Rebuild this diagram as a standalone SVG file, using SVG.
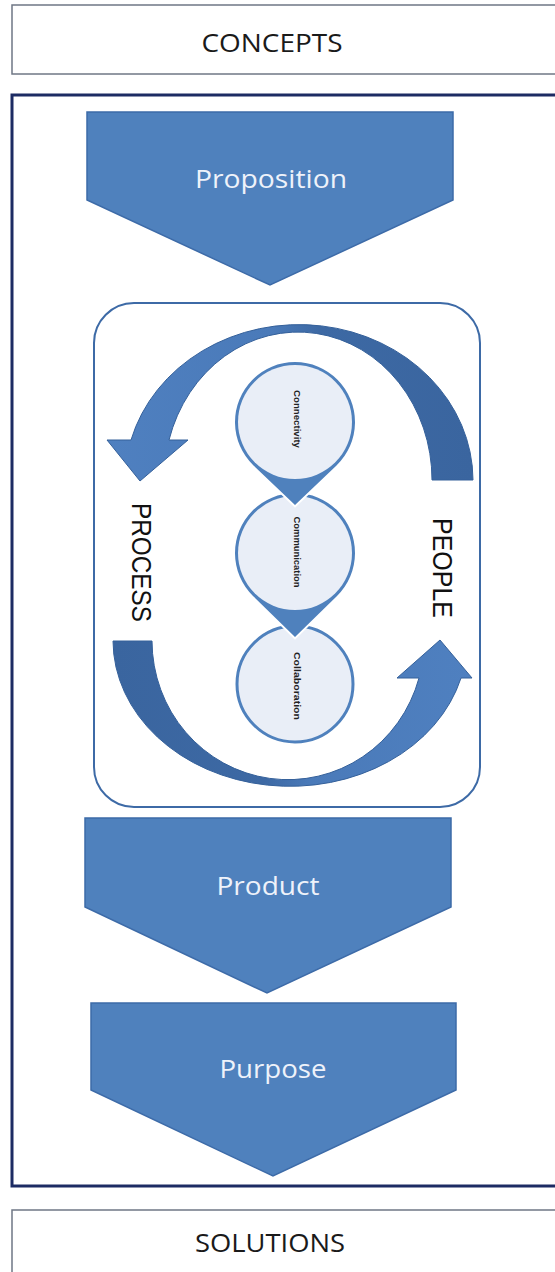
<svg xmlns="http://www.w3.org/2000/svg" width="555" height="1272" viewBox="0 0 555 1272">
  <style>
    .lbl { font-family: "Open Sans", "Noto Sans", sans-serif; font-size: 25px; fill: #1a1a1a; text-anchor: middle; }
    .chev { fill: #4f81bd; stroke: #3d6ba8; stroke-width: 1.5; }
    .chevtxt { font-family: "Open Sans", "Noto Sans", sans-serif; font-size: 25px; fill: #eef2fa; text-anchor: middle; }
    .side { font-family: "Liberation Sans", Arial, sans-serif; font-size: 27px; fill: #111; }
    .ctxt { font-family: "Liberation Sans", Arial, sans-serif; font-size: 9px; fill: #222; text-anchor: middle; font-weight: bold; }
    .drop { fill: #4f81bd; stroke: #ffffff; stroke-width: 4; paint-order: stroke; }
    .inner { fill: #e9eef7; }
    .arc { stroke: #34609a; stroke-width: 1; }
  </style>
  <defs>
    <linearGradient id="gTop" gradientUnits="userSpaceOnUse" x1="107" y1="0" x2="473" y2="0">
      <stop offset="0" stop-color="#4f80c0"/>
      <stop offset="0.45" stop-color="#4a7ab9"/>
      <stop offset="0.58" stop-color="#3d69a4"/>
      <stop offset="1" stop-color="#3a659f"/>
    </linearGradient>
    <linearGradient id="gBot" gradientUnits="userSpaceOnUse" x1="113" y1="0" x2="472" y2="0">
      <stop offset="0" stop-color="#3a659f"/>
      <stop offset="0.42" stop-color="#3d69a4"/>
      <stop offset="0.55" stop-color="#4a7ab9"/>
      <stop offset="1" stop-color="#4f80c0"/>
    </linearGradient>
  </defs>

  <rect width="555" height="1272" fill="#ffffff"/>

  <g id="concepts">
    <rect x="12" y="5" width="560" height="69" fill="#ffffff" stroke="#6f7785" stroke-width="1.5"/>
    <text class="lbl" x="272" y="52" textLength="141" lengthAdjust="spacingAndGlyphs">CONCEPTS</text>
  </g>

  <g id="frame">
    <rect x="12" y="95" width="560" height="1091" fill="none" stroke="#1c2b63" stroke-width="3"/>
  </g>

  <g id="proposition">
    <polygon class="chev" points="87,112 453,112 453,200 270,285 87,200"/>
    <text class="chevtxt" x="271" y="188" textLength="152" lengthAdjust="spacingAndGlyphs">Proposition</text>
  </g>

  <g id="cycle">
    <rect x="94" y="303" width="386" height="504" rx="40" ry="40" fill="#ffffff" stroke="#3d6aa6" stroke-width="2"/>
  </g>

  <g id="connectors">
    <path class="arc" fill="url(#gTop)" d="M 473,480 A 174 156 0 0 0 131,440 L 107,440 L 140,481 L 188,440 L 169,440 A 134 148 0 0 1 432,480 Z"/>
    <path class="arc" fill="url(#gBot)" d="M 113,641 A 177 146 0 0 0 461,678 L 472,678 L 440,640 L 397,678 L 419,678 A 136 139 0 0 1 152,641 Z"/>
  </g>

  <g id="process">
    <text class="side" transform="translate(132,503) rotate(90)" textLength="119" lengthAdjust="spacingAndGlyphs">PROCESS</text>
  </g>
  <g id="people">
    <text class="side" transform="translate(433,518) rotate(90)" textLength="100" lengthAdjust="spacingAndGlyphs">PEOPLE</text>
  </g>

  <g id="collaboration">
    <circle cx="295" cy="684" r="58" fill="#e9eef7" stroke="#4f81bd" stroke-width="3"/>
    <text class="ctxt" transform="translate(294,686) rotate(90)" textLength="68" lengthAdjust="spacingAndGlyphs">Collaboration</text>
  </g>
  <g id="communication">
    <path class="drop" d="M 253,595.9 A 60 60 0 1 1 337,595.9 L 295,637 Z"/>
    <circle class="inner" cx="295" cy="553" r="57"/>
    <text class="ctxt" transform="translate(294,552) rotate(90)" textLength="71" lengthAdjust="spacingAndGlyphs">Communication</text>
  </g>
  <g id="connectivity">
    <path class="drop" d="M 253.5,465.4 A 60 60 0 1 1 336.5,465.4 L 295,505 Z"/>
    <circle class="inner" cx="295" cy="422" r="57"/>
    <text class="ctxt" transform="translate(294,419) rotate(90)" textLength="58" lengthAdjust="spacingAndGlyphs">Connectivity</text>
  </g>

  <g id="product">
    <polygon class="chev" points="85,818 451,818 451,907 267,993 85,907"/>
    <text class="chevtxt" x="268" y="895" textLength="103" lengthAdjust="spacingAndGlyphs">Product</text>
  </g>

  <g id="purpose">
    <polygon class="chev" points="91,1003 456,1003 456,1090 273,1176 91,1090"/>
    <text class="chevtxt" x="273" y="1078" textLength="107" lengthAdjust="spacingAndGlyphs">Purpose</text>
  </g>

  <g id="solutions">
    <rect x="12" y="1210" width="560" height="80" fill="#ffffff" stroke="#6f7785" stroke-width="1.5"/>
    <text class="lbl" x="270" y="1252" textLength="150" lengthAdjust="spacingAndGlyphs">SOLUTIONS</text>
  </g>
</svg>
